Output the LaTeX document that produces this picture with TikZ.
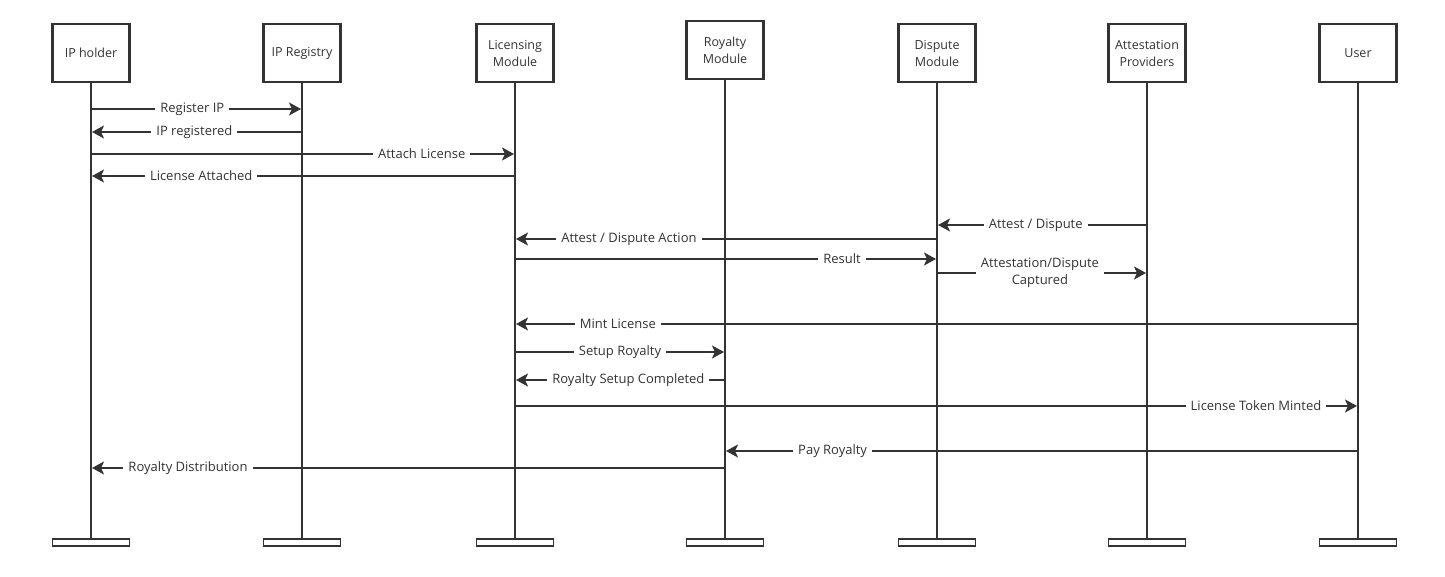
\documentclass[tikz,border=0pt]{standalone}
\usepackage{fontspec}
\setmainfont{Open Sans}
\usetikzlibrary{arrows.meta,positioning}
\definecolor{seqInk}{RGB}{51,51,51}

\begin{document}
\begin{tikzpicture}[x=1pt,y=-1pt,
    actor/.style={draw=seqInk, line width=2.2pt, fill=white, minimum width=77pt, minimum height=58pt,
        align=center, text=seqInk, font=\fontsize{12.5}{17}\selectfont},
    endbar/.style={draw=seqInk, line width=1.8pt, fill=white, minimum width=77pt, minimum height=7pt, inner sep=0pt},
    life/.style={seqInk, line width=2pt},
    msg/.style={seqInk, line width=2pt, -{Stealth[length=12pt,width=13pt,inset=3pt]}, shorten >=1pt},
    lbl/.style={fill=white, text=seqInk, inner xsep=5pt, inner ysep=1pt, align=center,
        font=\fontsize{13}{17}\selectfont}]
    \useasboundingbox (0,0) rectangle (1445,577);

    % participants
    \node[actor] (hold) at (91,53) {IP holder};
    \node[actor] (reg)  at (302,53) {IP Registry};
    \node[actor] (lic)  at (515,53) {Licensing\\Module};
    \node[actor] (roy)  at (725,50) {Royalty\\Module};
    \node[actor] (disp) at (937,53) {Dispute\\Module};
    \node[actor] (att)  at (1147,53) {Attestation\\Providers};
    \node[actor] (user) at (1358,53) {User};

    % end bars
    \node[endbar] (holdE) at (91,542.5) {};
    \node[endbar] (regE)  at (302,542.5) {};
    \node[endbar] (licE)  at (515,542.5) {};
    \node[endbar] (royE)  at (725,542.5) {};
    \node[endbar] (dispE) at (937,542.5) {};
    \node[endbar] (attE)  at (1147,542.5) {};
    \node[endbar] (userE) at (1358,542.5) {};

    % lifelines
    \foreach \p in {hold,reg,lic,roy,disp,att,user}
        \draw[life] (\p) -- (\p E);

    % registration
    \draw[msg] (hold |- 0,109) -- node[lbl,pos=0.48] {Register IP} (reg |- 0,109);
    \draw[msg] (reg |- 0,132) -- node[lbl,pos=0.51] {IP registered} (hold |- 0,132);
    \draw[msg] (hold |- 0,154) -- node[lbl,pos=0.78] {Attach License} (lic |- 0,154);
    \draw[msg] (lic |- 0,176) -- node[lbl,pos=0.74] {License Attached} (hold |- 0,176);

    % attest / dispute
    \draw[msg] (att |- 0,225) -- node[lbl,pos=0.53] {Attest / Dispute} (disp |- 0,225);
    \draw[msg] (disp |- 0,239) -- node[lbl,pos=0.73] {Attest / Dispute Action} (lic |- 0,239);
    \draw[msg] (lic |- 0,259) -- node[lbl,pos=0.775] {Result} (disp |- 0,259);
    \draw[msg] (disp |- 0,273) -- node[lbl,pos=0.49] {Attestation/Dispute\\Captured} (att |- 0,273);

    % minting and royalties
    \draw[msg] (user |- 0,324) -- node[lbl,pos=0.878] {Mint License} (lic |- 0,324);
    \draw[msg] (lic |- 0,352) -- node[lbl,pos=0.5] {Setup Royalty} (roy |- 0,352);
    \draw[msg] (roy |- 0,380) -- node[lbl,pos=0.46] {Royalty Setup Completed} (lic |- 0,380);
    \draw[msg] (lic |- 0,406) -- node[lbl,pos=0.879] {License Token Minted} (user |- 0,406);
    \draw[msg] (user |- 0,451) -- node[lbl,pos=0.83] {Pay Royalty} (roy |- 0,451);
    \draw[msg] (roy |- 0,468) -- node[lbl,pos=0.847] {Royalty Distribution} (hold |- 0,468);
\end{tikzpicture}
\end{document}
